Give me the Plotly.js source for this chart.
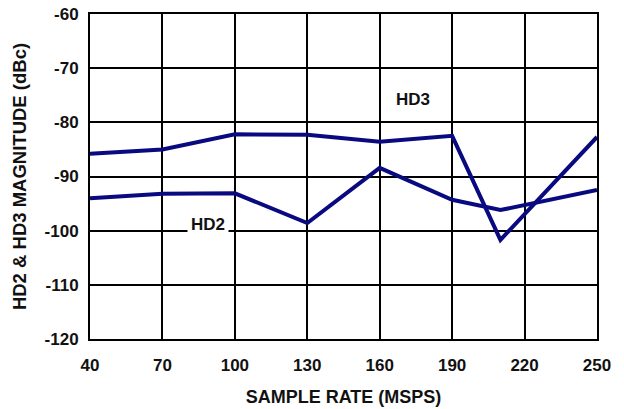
<!DOCTYPE html>
<html><head><meta charset="utf-8">
<script src="https://cdn.plot.ly/plotly-3.0.1.min.js"></script>
<style>html,body{margin:0;padding:0;background:#fff}#c{width:624px;height:409px}</style>
</head><body><div id="c"></div>
<script>
const sampleRate = [40, 70, 100, 130, 160, 190, 210, 250];
const hd3 = [-85.8, -85.0, -82.2, -82.3, -83.6, -82.5, -101.7, -82.7];
const hd2 = [-94.0, -93.2, -93.1, -98.6, -88.4, -94.3, -96.2, -92.5];
const xTicks = [40, 70, 100, 130, 160, 190, 220, 250];
const yTicks = [-120, -110, -100, -90, -80, -70, -60];

const navy = '#0a0a80';
const fam = 'Liberation Sans, Arial, sans-serif';
const tickFont = {family: fam, size: 17, color: '#111'};
const traces = [
  {x: sampleRate, y: hd3, mode: 'lines', name: 'HD3', line: {color: navy, width: 4}},
  {x: sampleRate, y: hd2, mode: 'lines', name: 'HD2', line: {color: navy, width: 4}}
];
const layout = {
  width: 624, height: 409,
  margin: {l: 90, r: 27, t: 14, b: 70},
  paper_bgcolor: '#fff', plot_bgcolor: '#fff',
  showlegend: false,
  font: tickFont,
  xaxis: {
    range: [40, 250], tickvals: xTicks, ticktext: xTicks.map(v => '<b>' + v + '</b>'),
    tickfont: tickFont,
    showgrid: true, gridcolor: '#000', gridwidth: 2,
    showline: true, linecolor: '#000', linewidth: 2, mirror: true,
    zeroline: false, ticks: '', ticklabelstandoff: 10,
    title: {text: '<b>SAMPLE RATE (MSPS)</b>', font: {family: fam, size: 18, color: '#111'}, standoff: 16}
  },
  yaxis: {
    range: [-120, -60], tickvals: yTicks, ticktext: yTicks.map(v => '<b>' + v + '</b>'),
    tickfont: tickFont,
    showgrid: true, gridcolor: '#000', gridwidth: 2,
    showline: true, linecolor: '#000', linewidth: 2, mirror: true,
    zeroline: false, ticks: '', ticklabelstandoff: 6,
    title: {text: '<b>HD2 & HD3 MAGNITUDE (dBc)</b>', font: {family: fam, size: 18.5, color: '#111'}, standoff: 13}
  },
  annotations: [
    {x: 173.7, y: -75.7, xref: 'x', yref: 'y', text: '<b>HD3</b>', showarrow: false, font: {family: fam, size: 17, color: '#111'}},
    {x: 89.0, y: -98.8, xref: 'x', yref: 'y', text: '<b>HD2</b>', showarrow: false, font: {family: fam, size: 17, color: '#111'}, bgcolor: '#fff', borderpad: 3}
  ]
};
Plotly.newPlot('c', traces, layout, {displayModeBar: false, staticPlot: true});
</script></body></html>
